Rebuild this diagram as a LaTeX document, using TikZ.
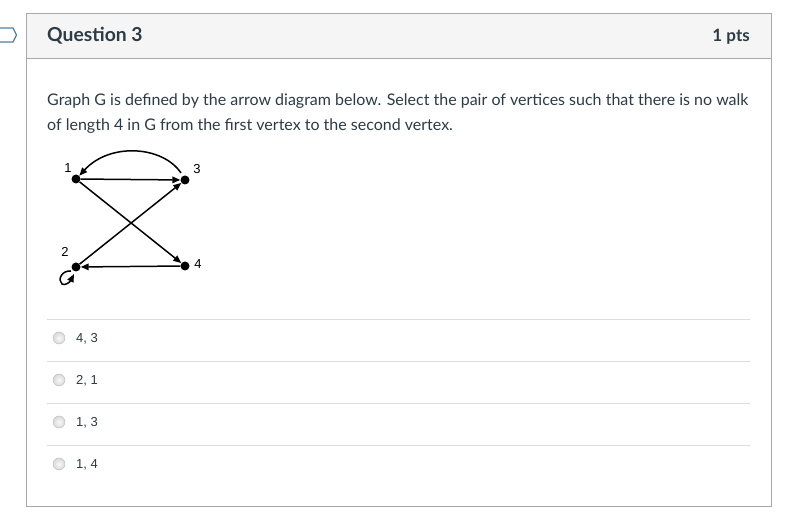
\documentclass[tikz,border=0pt]{standalone}
\usepackage{fontspec}
\setmainfont{Lato}
\newfontfamily\arialf{Liberation Sans}
\usetikzlibrary{arrows.meta}
\definecolor{txt}{HTML}{2D3B45}
\definecolor{bordc}{HTML}{A8A8A8}
\definecolor{headbg}{HTML}{F5F5F5}
\definecolor{sepc}{HTML}{DDDDDD}
\definecolor{tabc}{HTML}{4F7FA6}
\tikzset{
  vert/.style={circle,fill=black,inner sep=0pt,minimum size=9pt},
  vlab/.style={font=\arialf\fontsize{13}{15}\selectfont,inner sep=0pt},
  edge/.style={line width=1.5pt,-{Triangle[length=8pt,width=6.5pt]}},
  radio/.style={circle,draw=gray!55,inner color=gray!5,outer color=gray!30,minimum size=12pt,inner sep=0pt},
  opt/.style={font=\arialf\fontsize{13}{15}\selectfont,text=txt,anchor=west,inner sep=0pt},
  sep/.style={draw=sepc,line width=0.8pt}
}
\begin{document}
\begin{tikzpicture}[x=1pt,y=-1pt]
\useasboundingbox (0,0) rectangle (788,526);
\fill[white] (0,0) rectangle (788,526);
% header
\fill[headbg] (26,14) rectangle (771,59);
\draw[bordc,line width=1pt] (26,14) rectangle (771,507);
\draw[bordc,line width=1pt] (26,59) -- (771,59);
\draw[tabc,line width=1.2pt] (-2,28) -- (13,28) -- (16.5,35) -- (13,42) -- (-2,42);
\node[font=\bfseries\fontsize{19.3}{22}\selectfont,text=txt,anchor=west,inner sep=0pt] (title) at (47,36) {Question 3};
\node[font=\bfseries\fontsize{17}{20}\selectfont,text=txt,anchor=east,inner sep=0pt] (pts) at (750,37) {1 pts};
% text
\node[font=\fontsize{16}{25}\selectfont,text=txt,anchor=north west,inner sep=0pt,align=left] (q) at (47,94)
 {Graph G is defined by the arrow diagram below. Select the pair of vertices such that there is no walk\\of length 4 in G from the first vertex to the second vertex.};
% graph
\node[vert] (v1) at (76,179) {};
\node[vert] (v3) at (185,180) {};
\node[vert] (v2) at (76,267) {};
\node[vert] (v4) at (185,266) {};
\node[vlab] (l1) at (68,168) {1};
\node[vlab] (l3) at (197,169) {3};
\node[vlab] (l2) at (65,252) {2};
\node[vlab] (l4) at (198,264) {4};
\draw[edge] (v1) -- (v3);
\draw[edge] (v1) -- (v4);
\draw[edge] (v2) -- (v3);
\draw[edge] (v4) -- (v2);
\draw[edge] (181,173) .. controls (163,146) and (110,142) .. (v1.north east);
\draw[edge] (71,271) .. controls (62,270) and (57,280) .. (62,284) .. controls (65,286) and (70,282) .. (74,274);
% options
\foreach \y/\t [count=\i] in {338/{4, 3},380/{2, 1},422/{1, 3},464/{1, 4}}{
  \draw[sep] (47,\y-19) -- (750,\y-19);
  \node[radio] (r\i) at (59,\y) {};
  \node[opt] (o\i) at (76,\y+0.5) {\t};
}
\end{tikzpicture}
\end{document}
